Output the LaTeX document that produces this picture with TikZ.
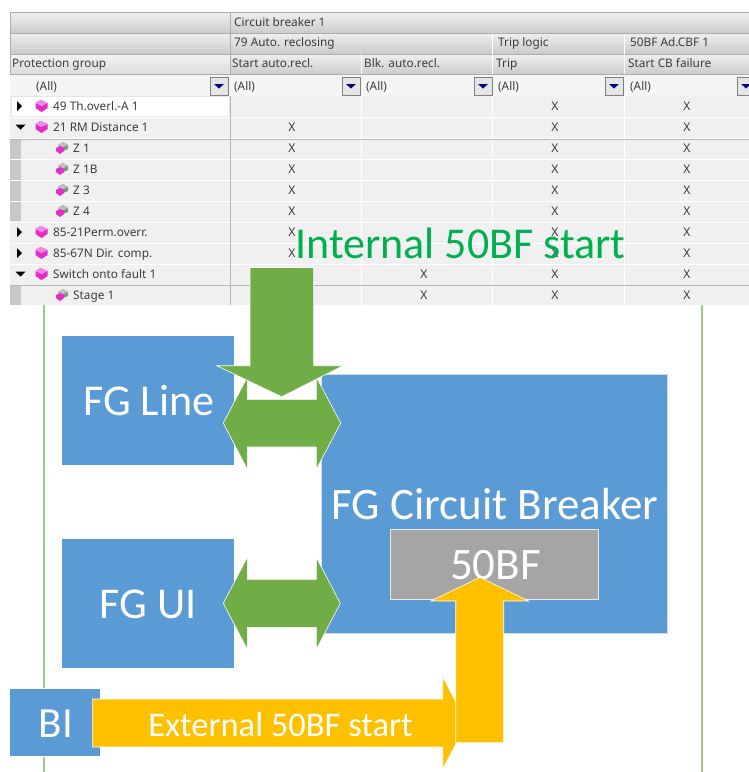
\documentclass[tikz,border=0pt]{standalone}
\usepackage{fontspec}
\setmainfont{Carlito}
\newfontfamily\tblfont{Noto Sans}
\definecolor{blu}{HTML}{5B9BD5}
\definecolor{grn}{HTML}{70AD47}
\definecolor{yel}{HTML}{FFC000}
\definecolor{gry}{HTML}{A5A5A5}
\definecolor{ttxt}{HTML}{3C3C3C}
\definecolor{pnk}{HTML}{E52CC8}
\definecolor{internalgreen}{HTML}{00B050}
\tikzset{
  x=1pt,y=-1pt,
  shapeedge/.style={draw=white,line width=0.6pt,line join=miter},
  grnarrow/.style={shapeedge,fill=grn},
  yelarrow/.style={shapeedge,fill=yel},
  hdrcell/.style={draw=none,top color=black!7,bottom color=black!20},
  hdrline/.style={draw=black!32,line width=0.9pt},
  gridw/.style={draw=white,line width=1pt},
  gridg/.style={draw=black!28,line width=0.9pt},
  ttext/.style={font=\tblfont\fontsize{11.8}{13}\selectfont,text=ttxt,inner sep=0pt,anchor=base west,yshift=-1.2pt},
  xmark/.style={font=\tblfont\fontsize{12}{13}\selectfont,text=ttxt,inner sep=0pt,anchor=base,yshift=-0.3pt},
  bigtext/.style={text=white,inner sep=0pt,font=\fontsize{45}{47}\selectfont},
  midtext/.style={text=white,inner sep=0pt,font=\fontsize{44}{46}\selectfont},
  railline/.style={draw=grn!65!white,line width=1.1pt}
}
\newcommand{\pcube}[2]{%
  \fill[pnk] (#1-6,#2-3) -- (#1-1,#2-6) -- (#1+6,#2-3) -- (#1+6,#2+2) -- (#1,#2+6) -- (#1-6,#2+2) -- cycle;
  \fill[pnk!55!white] (#1-6,#2-3) -- (#1-1,#2-6) -- (#1+6,#2-3) -- (#1,#2) -- cycle;}
\newcommand{\ccube}[2]{%
  \fill[black!45] (#1-2,#2-3) -- (#1+3,#2-6) -- (#1+8,#2-3) -- (#1+8,#2+1) -- (#1+3,#2+3) -- cycle;
  \fill[black!25] (#1-2,#2-3) -- (#1+3,#2-6) -- (#1+8,#2-3) -- (#1+3,#2-1) -- cycle;
  \fill[pnk] (#1-4,#2) -- (#1,#2-2) -- (#1+4,#2) -- (#1+4,#2+3) -- (#1,#2+6) -- (#1-4,#2+3) -- cycle;}
\newcommand{\ddbtn}[2]{%
  \fill[black!10] (#1,#2) rectangle ++(18,18);
  \draw[black!50,line width=0.8pt] (#1,#2) rectangle ++(18,18);
  \fill[blue!50!black] (#1+4,#2+7) -- (#1+14,#2+7) -- (#1+9,#2+11.5) -- cycle;}
\begin{document}
\begin{tikzpicture}
\clip (0,0) rectangle (749,772);
\fill[white] (0,0) rectangle (749,772);
% table header
\fill[hdrcell] (10,13) rectangle (749,33);
\fill[hdrcell] (10,34) rectangle (749,53);
\fill[hdrcell] (10,55) rectangle (749,74);
\fill[top color=blue!4!black!5,bottom color=blue!6!black!14] (10,55) rectangle (230,74);
\fill[black!4] (10,75) rectangle (749,96);
\fill[black!6] (10,96) rectangle (749,305);
\foreach \yy in {12.5,33.5,54,74.5}{\draw[hdrline] (10,\yy) -- (749,\yy);}
\draw[hdrline] (10,12.5) -- (10,74.5);
\draw[hdrline] (230.5,12.5) -- (230.5,74.5);
\draw[gridw] (361.5,54) -- (361.5,74);
\draw[gridw] (492.5,34) -- (492.5,74);
\draw[gridw] (624.5,34) -- (624.5,74);
% data grid
\foreach \yy in {117,138,159.5,180.5,201.5,222,243,264,285}{\draw[gridw] (10,\yy) -- (749,\yy);}
\foreach \xx in {361.5,492.5,624.5}{\draw[gridw] (\xx,96) -- (\xx,305);}
\draw[gridg] (230.5,96) -- (230.5,305);
\draw[gridg] (10,139) -- (749,139);
\draw[gridg] (10,285.5) -- (749,285.5);
\foreach \yy/\hh in {140/159,160/180,181/201,202/221,286/305}{\fill[black!22] (10,\yy) rectangle (21,\hh);}
\fill[white] (11,96) rectangle (230,117);
\draw[black!10,line width=0.6pt] (11.5,96.5) rectangle (229.5,116.5);
% header texts
\node[ttext] (h1) at (234,25) {Circuit breaker 1};
\node[ttext] (h2) at (234,45) {79 Auto. reclosing};
\node[ttext] (h3) at (498,45) {Trip logic};
\node[ttext] (h4) at (630,45) {50BF Ad.CBF 1};
\node[ttext] (c0) at (12,66) {Protection group};
\node[ttext] (c1) at (232,66) {Start auto.recl.};
\node[ttext] (c2) at (364,66) {Blk. auto.recl.};
\node[ttext] (c3) at (496,66) {Trip};
\node[ttext] (c4) at (628,66) {Start CB failure};
\node[ttext] (f0) at (36,89) {(All)};
\node[ttext] (f1) at (234,89) {(All)};
\node[ttext] (f2) at (366,89) {(All)};
\node[ttext] (f3) at (498,89) {(All)};
\node[ttext] (f4) at (630,89) {(All)};
\foreach \bx in {210,342,474,605,737}{\ddbtn{\bx}{77}}
% tree rows
\foreach \nm/\lbl/\yy in {r1/49 Th.overl.-A 1/109,r2/21 RM Distance 1/130,r7/85-21Perm.overr./235,r8/85-67N Dir. comp./256,r9/Switch onto fault 1/277}{
  \node[ttext] (\nm) at (53,\yy) {\lbl};
  \pcube{41.5}{\yy-3}
}
\foreach \nm/\lbl/\yy in {r3/Z 1/151,r4/Z 1B/172,r5/Z 3/193,r6/Z 4/214,r10/Stage 1/298}{
  \node[ttext] (\nm) at (73,\yy) {\lbl};
  \ccube{60}{\yy-3}
}
\foreach \yy in {106,232,253}{\fill[black] (17,\yy-5) -- (22,\yy) -- (17,\yy+5) -- cycle;}
\foreach \yy in {127,274}{\fill[black] (15.5,\yy-2.5) -- (25.5,\yy-2.5) -- (20.5,\yy+2.5) -- cycle;}
% marks
\foreach \xx/\yy in {292/131,292/152,292/173,292/194,292/215,292/236,292/257,
  424/278,424/299,
  555/110,555/131,555/152,555/173,555/194,555/215,555/236,555/257,555/278,555/299,
  687/110,687/131,687/152,687/173,687/194,687/215,687/236,687/257,687/278,687/299}{
  \node[xmark] at (\xx,\yy) {X};
}
% rails
\coordinate (railLtop) at (44,305);
\coordinate (railLmid) at (44,688);
\coordinate (railLlow) at (44,757);
\coordinate (railLend) at (44,772);
\coordinate (railRtop) at (702,305);
\coordinate (railRend) at (702,772);
\draw[railline] (railLtop) -- (railLmid);
\draw[railline] (railLlow) -- (railLend);
\draw[railline] (railRtop) -- (railRend);
% blocks
\fill[blu] (62,336) rectangle (234,464.5);
\node[midtext] (fgline) at (149,401) {FG Line};
\fill[blu] (62,539) rectangle (234,667.5);
\node[midtext] (fgui) at (148,604) {FG UI};
\fill[blu] (321.7,374.5) rectangle (667,633);
\draw[white!70!blu,line width=0.5pt] (321.7,374.5) rectangle (667,633);
\node[bigtext] (fgcb) at (495,504) {FG Circuit Breaker};
\fill[gry] (390,529.7) rectangle (598.3,599.3);
\draw[white!75!gry,line width=0.9pt] (390,529.7) rectangle (598.3,599.3);
\fill[blu] (10,689) rectangle (100,756);
\node[text=white,inner sep=0pt,font=\fontsize{43}{45}\selectfont] (bi) at (56,724) {BI};
% green arrows
\draw[grnarrow] (223.3,423) -- (247.3,377) -- (247.3,399.3) -- (316.3,399.3) -- (316.3,377) -- (340.7,423) -- (316.3,469.3) -- (316.3,447) -- (247.3,447) -- (247.3,469.3) -- cycle;
\draw[grnarrow] (223.3,603.3) -- (247.3,557.3) -- (247.3,579.3) -- (316.3,579.3) -- (316.3,557.3) -- (340.3,603.3) -- (316.3,649.3) -- (316.3,627.3) -- (247.3,627.3) -- (247.3,649.3) -- cycle;
\draw[grnarrow] (250,267.5) -- (313.7,267.5) -- (313.7,365.7) -- (343,365.7) -- (281.7,396.7) -- (216.7,365.7) -- (250,365.7) -- cycle;
% yellow arrows
\draw[yelarrow] (92.3,699) -- (442.7,699) -- (442.7,676.7) -- (467,723) -- (442.7,769) -- (442.7,747) -- (92.3,747) -- cycle;
\node[text=white,font=\fontsize{34.5}{36}\selectfont,inner sep=0pt] (ext) at (280.5,725) {External 50BF start};
\node[bigtext] (bf) at (495.5,565) {50BF};
\draw[yelarrow] (455.7,742.7) -- (455.7,601) -- (430.7,601) -- (480,577.3) -- (528.7,601) -- (503.7,601) -- (503.7,742.7) -- cycle;
\node[text=internalgreen,font=\fontsize{44}{46}\selectfont,inner sep=0pt] (int) at (460.5,243) {Internal 50BF start};
\end{tikzpicture}
\end{document}
